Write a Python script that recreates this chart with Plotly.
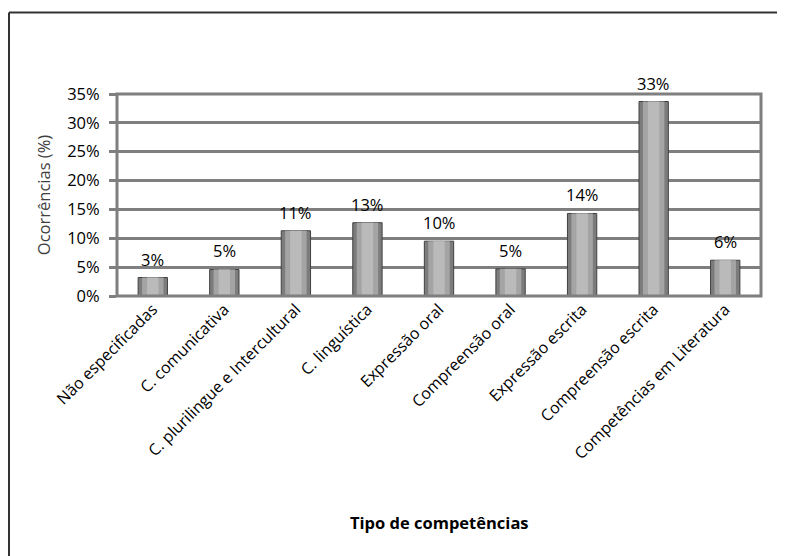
import plotly.graph_objects as go

categories = ["Não especificadas", "C. comunicativa", "C. plurilingue e Intercultural",
              "C. linguística", "Expressão oral", "Compreensão oral", "Expressão escrita",
              "Compreensão escrita", "Competências em Literatura"]
values = [3.2, 4.6, 11.3, 12.7, 9.5, 4.7, 14.3, 33.7, 6.2]
value_labels = ["3%", "5%", "11%", "13%", "10%", "5%", "14%", "33%", "6%"]
y_ticks = [0, 5, 10, 15, 20, 25, 30, 35]
y_tick_labels = ["0%", "5%", "10%", "15%", "20%", "25%", "30%", "35%"]

FONT = "Open Sans"
OFF = 8  # page body margin offset

fig = go.Figure()
fig.add_trace(go.Bar(
    x=categories, y=values, width=0.41,
    marker=dict(color="#7c7c7c", line=dict(color="#404040", width=1)),
    hoverinfo="skip", showlegend=False,
))
fig.add_trace(go.Bar(
    x=categories, y=values, width=0.30,
    marker=dict(color="#a4a4a4", line=dict(width=0)),
    hoverinfo="skip", showlegend=False,
))
fig.add_trace(go.Bar(
    x=categories, y=values, width=0.16,
    marker=dict(color="#bababa", line=dict(width=0)),
    hoverinfo="skip", showlegend=False,
))

for c, v, lab in zip(categories, values, value_labels):
    fig.add_annotation(x=c, y=v, text=lab, showarrow=False, yanchor="bottom",
                       yshift=5, font=dict(family=FONT, size=16.5, color="#000000"))

W, H = 785 - OFF, 556 - OFF
ml, mr, mt, mb = 117 - OFF, 24, 94 - OFF, 260
pw, ph = W - ml - mr, H - mt - mb

def px_x(x):
    return (x - OFF - ml) / pw

def px_y(y):
    return (H - mb - (y - OFF)) / ph

x_left, x_right = px_x(9), px_x(800)
y_top, y_bot = px_y(12.5), px_y(570)

fig.update_layout(
    width=W, height=H,
    margin=dict(l=ml, r=mr, t=mt, b=mb, pad=0),
    barmode="overlay",
    plot_bgcolor="#ffffff", paper_bgcolor="#ffffff",
    font=dict(family=FONT, size=15, color="#000000"),
    shapes=[
        dict(type="line", xref="paper", yref="paper", x0=x_left, x1=x_left,
             y0=y_bot, y1=y_top, line=dict(color="#333333", width=2)),
        dict(type="line", xref="paper", yref="paper", x0=x_left, x1=x_right,
             y0=y_top, y1=y_top, line=dict(color="#333333", width=2)),
        dict(type="rect", xref="paper", yref="paper", x0=0, x1=1, y0=0, y1=1,
             line=dict(color="#7f7f7f", width=3), layer="above"),
    ],
    xaxis=dict(
        tickangle=-45, tickfont=dict(family=FONT, size=16, color="#000000"),
        showgrid=False, showline=False, ticks="", title=None,
        automargin=False,
    ),
    yaxis=dict(
        range=[0, 35], tickvals=y_ticks, ticktext=y_tick_labels,
        tickfont=dict(family=FONT, size=16.5, color="#000000"),
        showgrid=True, gridcolor="#7f7f7f", gridwidth=2.5,
        ticks="outside", ticklen=7, tickcolor="#7f7f7f", tickwidth=2.5,
        ticklabelstandoff=6,
        showline=False, zeroline=False,
        title=dict(text="Ocorrências (%)", font=dict(family=FONT, size=16.5, color="#404040"),
                   standoff=12),
        automargin=False,
    ),
)

fig.add_annotation(text="<b>Tipo de competências</b>", xref="paper", yref="paper",
                   x=0.5, y=px_y(522), showarrow=False, yanchor="middle",
                   font=dict(family=FONT, size=16.5, color="#000000"))

fig.write_html("out.html")
